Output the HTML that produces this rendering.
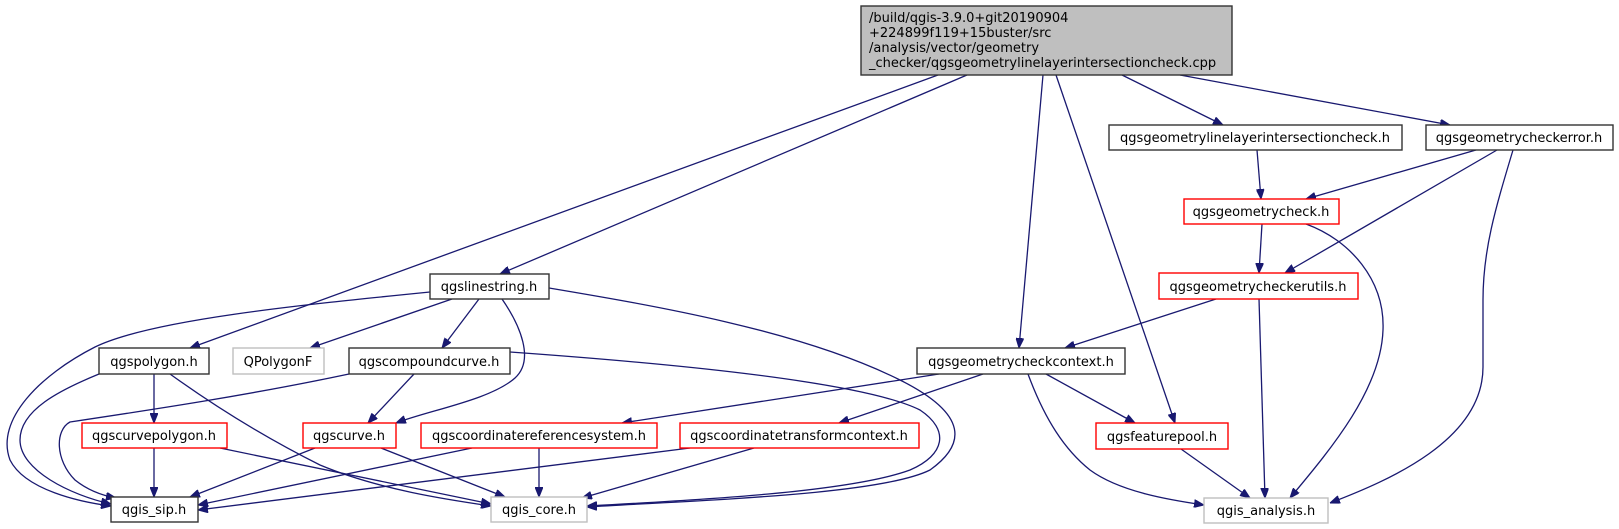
<!DOCTYPE html>
<html><head><meta charset="utf-8"><style>
html,body{margin:0;padding:0;background:#fff;}
svg{display:block;}
text{font-family:"DejaVu Sans","Liberation Sans",sans-serif;font-size:13px;fill:#000;}
.e{fill:none;stroke:#191970;stroke-width:1.3;}
</style></head><body>
<svg width="1619" height="529" viewBox="0 0 1619 529" xmlns="http://www.w3.org/2000/svg">
<defs><marker id="a" viewBox="0 0 10 8" refX="10" refY="4" markerWidth="10" markerHeight="8" markerUnits="userSpaceOnUse" orient="auto"><path d="M0,0L10,4L0,8z" fill="#191970" stroke="#191970"/></marker></defs>
<g marker-end="url(#a)">
<path class="e" d="M938,75 L190,348"/>
<path class="e" d="M967,75 L500,274"/>
<path class="e" d="M1043,75 L1019,348"/>
<path class="e" d="M1056,75 L1175,423"/>
<path class="e" d="M1122,75 L1223,125"/>
<path class="e" d="M1180,75 L1450,125"/>
<path class="e" d="M1257,150 L1261,199"/>
<path class="e" d="M1476,150 L1306,199"/>
<path class="e" d="M1497,150 L1285,273"/>
<path class="e" d="M1513,150 C1495,210 1483,250 1483,300 L1483,367 C1483,440 1390,480 1330,503"/>
<path class="e" d="M1306,224 C1350,240 1385,280 1383,330 C1381,390 1330,450 1290,498"/>
<path class="e" d="M1262,224 L1259,273"/>
<path class="e" d="M1216,299 L1065,348"/>
<path class="e" d="M1259,299 L1265,498"/>
<path class="e" d="M939,374 L622,423"/>
<path class="e" d="M983,374 L839,423"/>
<path class="e" d="M1046,374 L1135,423"/>
<path class="e" d="M1028,374 C1045,420 1065,450 1090,470 C1120,492 1170,500 1204,505"/>
<path class="e" d="M1181,449 L1250,498"/>
<path class="e" d="M452,299 L310,348"/>
<path class="e" d="M479,299 L442,348"/>
<path class="e" d="M502,299 C520,325 535,360 515,378 C490,400 430,410 396,423"/>
<path class="e" d="M430,292 C300,305 150,320 95,347 C40,375 -5,420 10,460 C25,490 80,502 111,506"/>
<path class="e" d="M549,288 C650,305 800,330 900,380 C970,415 965,445 930,470 C880,495 700,500 587,507"/>
<path class="e" d="M510,352 C650,362 860,380 920,410 C950,430 945,455 910,470 C850,492 700,500 587,506"/>
<path class="e" d="M414,374 L368,423"/>
<path class="e" d="M349,374 C250,395 150,410 70,422 C55,430 55,460 75,480 C90,492 105,496 116,498"/>
<path class="e" d="M154,374 L154,423"/>
<path class="e" d="M99,374 C60,390 20,410 20,440 C20,470 70,495 111,504"/>
<path class="e" d="M170,374 C220,410 270,440 320,465 C380,490 450,500 491,506"/>
<path class="e" d="M154,448 L154,497"/>
<path class="e" d="M220,448 L491,504"/>
<path class="e" d="M315,448 L190,497"/>
<path class="e" d="M381,448 L505,497"/>
<path class="e" d="M472,448 L198,505"/>
<path class="e" d="M539,448 L539,497"/>
<path class="e" d="M690,448 L198,510"/>
<path class="e" d="M754,448 L582,498"/>
</g>
<g stroke-width="1.4">
<rect x="861" y="6" width="371" height="69" fill="#bfbfbf" stroke="#333"/>
<rect x="1109" y="125" width="293" height="25" fill="#fff" stroke="#333"/>
<rect x="1426" y="125" width="187" height="25" fill="#fff" stroke="#333"/>
<rect x="1184" y="199" width="155" height="25" fill="#fff" stroke="#ff0000"/>
<rect x="1159" y="273" width="199" height="26" fill="#fff" stroke="#ff0000"/>
<rect x="430" y="274" width="119" height="25" fill="#fff" stroke="#333"/>
<rect x="99" y="348" width="110" height="26" fill="#fff" stroke="#333"/>
<rect x="233" y="348" width="91" height="26" fill="#fff" stroke="#bfbfbf"/>
<rect x="349" y="348" width="161" height="26" fill="#fff" stroke="#333"/>
<rect x="917" y="348" width="208" height="26" fill="#fff" stroke="#333"/>
<rect x="82" y="423" width="145" height="25" fill="#fff" stroke="#ff0000"/>
<rect x="303" y="423" width="93" height="25" fill="#fff" stroke="#ff0000"/>
<rect x="421" y="423" width="236" height="25" fill="#fff" stroke="#ff0000"/>
<rect x="680" y="423" width="239" height="25" fill="#fff" stroke="#ff0000"/>
<rect x="1096" y="423" width="132" height="26" fill="#fff" stroke="#ff0000"/>
<rect x="111" y="497" width="87" height="25" fill="#fff" stroke="#333"/>
<rect x="491" y="497" width="96" height="25" fill="#fff" stroke="#bfbfbf"/>
<rect x="1204" y="498" width="124" height="25" fill="#fff" stroke="#bfbfbf"/>
</g>
<text x="869" y="22">/build/qgis-3.9.0+git20190904</text>
<text x="869" y="37">+224899f119+15buster/src</text>
<text x="869" y="52">/analysis/vector/geometry</text>
<text x="869" y="67">_checker/qgsgeometrylinelayerintersectioncheck.cpp</text>
<g text-anchor="middle">
<text x="1255" y="142">qgsgeometrylinelayerintersectioncheck.h</text>
<text x="1519" y="142">qgsgeometrycheckerror.h</text>
<text x="1261" y="216">qgsgeometrycheck.h</text>
<text x="1258" y="291">qgsgeometrycheckerutils.h</text>
<text x="489" y="291">qgslinestring.h</text>
<text x="154" y="366">qgspolygon.h</text>
<text x="278" y="366">QPolygonF</text>
<text x="429" y="366">qgscompoundcurve.h</text>
<text x="1021" y="366">qgsgeometrycheckcontext.h</text>
<text x="154" y="440">qgscurvepolygon.h</text>
<text x="349" y="440">qgscurve.h</text>
<text x="539" y="440">qgscoordinatereferencesystem.h</text>
<text x="799" y="440">qgscoordinatetransformcontext.h</text>
<text x="1162" y="441">qgsfeaturepool.h</text>
<text x="154" y="514">qgis_sip.h</text>
<text x="539" y="514">qgis_core.h</text>
<text x="1266" y="515">qgis_analysis.h</text>
</g>
</svg>
</body></html>
